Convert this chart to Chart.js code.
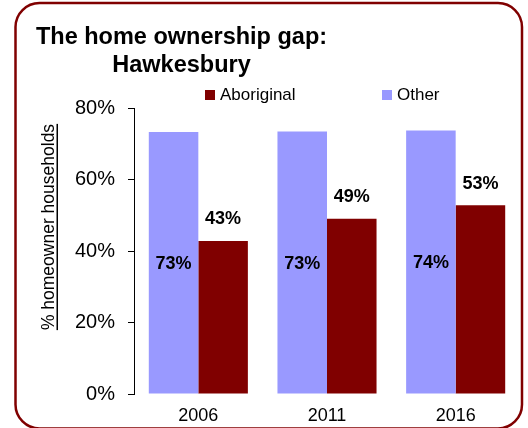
<!DOCTYPE html>
<html>
<head>
<meta charset="utf-8">
<script src="https://cdn.jsdelivr.net/npm/chart.js@4.4.1/dist/chart.umd.min.js"></script>
<style>
  html, body { margin: 0; padding: 0; background: #fff; }
  #wrap { width: 528px; height: 428px; }
</style>
</head>
<body>
<div id="wrap"><canvas id="gapChart" width="528" height="428"></canvas></div>
<script>
// values
const years = ['2006', '2011', '2016'];
const otherPct = [73.3, 73.4, 73.7];
const aboriginalPct = [42.8, 49.0, 52.8];
const yTicks = [0, 20, 40, 60, 80];

const titleLines = ['The home ownership gap:', 'Hawkesbury'];
const yTitle = '% homeowner households';
const legendOrder = ['Aboriginal', 'Other'];

const FONT = '"Liberation Sans", Arial, Helvetica, sans-serif';
const MAROON = '#800000';
const LILAC = '#9999ff';

// title, legend, axis title, value labels and frame
const decorations = {
  id: 'decorations',
  afterDraw(chart) {
    const ctx = chart.ctx;
    ctx.save();

    // title
    ctx.fillStyle = '#000';
    ctx.font = 'bold 23.5px ' + FONT;
    ctx.textAlign = 'center';
    ctx.textBaseline = 'alphabetic';
    ctx.fillText(titleLines[0], 181.5, 44);
    ctx.fillText(titleLines[1], 181.5, 72);

    // legend
    ctx.font = '17px ' + FONT;
    ctx.textAlign = 'left';
    ctx.textBaseline = 'middle';
    const legendX = [205, 382];
    legendOrder.forEach(function(name, i) {
      const ds = chart.data.datasets.find(d => d.label === name);
      ctx.fillStyle = ds.backgroundColor;
      ctx.fillRect(legendX[i], 90, 10, 10);
      ctx.fillStyle = '#000';
      ctx.fillText(name, legendX[i] + 15, 95.5);
    });

    // y axis title, underlined
    ctx.save();
    ctx.translate(54, 227);
    ctx.rotate(-Math.PI / 2);
    ctx.font = '17.5px ' + FONT;
    ctx.textAlign = 'center';
    ctx.textBaseline = 'alphabetic';
    ctx.fillStyle = '#000';
    ctx.fillText(yTitle, 0, 0);
    const w = ctx.measureText(yTitle).width;
    ctx.fillRect(-w / 2, 2.5, w, 1.5);
    ctx.restore();

    // value labels
    ctx.font = 'bold 18px ' + FONT;
    ctx.textAlign = 'center';
    ctx.textBaseline = 'middle';
    ctx.fillStyle = '#000';
    chart.data.datasets.forEach(function(ds, di) {
      const meta = chart.getDatasetMeta(di);
      meta.data.forEach(function(bar, i) {
        const txt = Math.round(ds.data[i]) + '%';
        if (ds.label === 'Other') {
          ctx.fillText(txt, bar.x, (bar.y + bar.base) / 2 + 1);
        } else {
          ctx.fillText(txt, bar.x, bar.y - 21.5);
        }
      });
    });

    // rounded frame
    ctx.strokeStyle = MAROON;
    ctx.lineWidth = 2.5;
    ctx.beginPath();
    ctx.roundRect(15.5, 3, 506.5, 425.5, 24);
    ctx.stroke();

    ctx.restore();
  }
};

const CHART = document.getElementById('gapChart');
let gapChart = new Chart(CHART, {
  type: 'bar',
  data: {
    labels: years,
    datasets: [
      {
        label: 'Other',
        data: otherPct,
        backgroundColor: LILAC,
        borderWidth: 0
      },
      {
        label: 'Aboriginal',
        data: aboriginalPct,
        backgroundColor: MAROON,
        borderWidth: 0
      }
    ]
  },
  options: {
    responsive: false,
    animation: false,
    layout: {
      padding: { top: 108, left: 75, right: 8, bottom: 0 }
    },
    plugins: {
      legend: { display: false },
      title: { display: false },
      tooltip: { enabled: false }
    },
    datasets: {
      bar: { categoryPercentage: 0.77, barPercentage: 1.0 }
    },
    scales: {
      x: {
        afterFit(scale) { scale.height = 34; },
        grid: { display: false, drawTicks: false },
        border: { display: false },
        ticks: {
          color: '#000',
          padding: 11,
          font: { family: FONT, size: 18 }
        }
      },
      y: {
        min: 0,
        max: 80,
        afterFit(scale) { scale.width = 59; },
        afterBuildTicks(scale) {
          scale.ticks = yTicks.map(v => ({ value: v }));
        },
        grid: {
          drawOnChartArea: false,
          drawTicks: true,
          tickLength: 6,
          color: '#000'
        },
        border: { display: true, color: '#000', width: 1 },
        ticks: {
          color: '#000',
          padding: 13,
          font: { family: FONT, size: 20 },
          callback: v => v + '%'
        }
      }
    }
  },
  plugins: [decorations]
});
</script>
</body>
</html>
